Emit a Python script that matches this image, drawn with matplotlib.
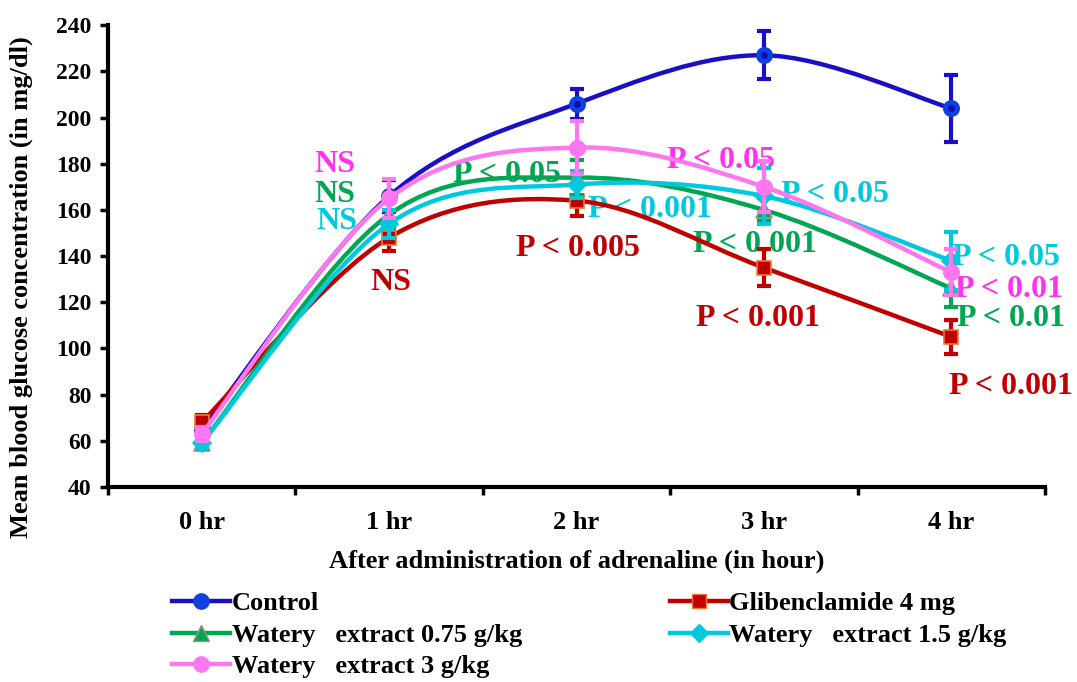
import numpy as np
import matplotlib
matplotlib.use("Agg")
import matplotlib.pyplot as plt
from matplotlib.path import Path
from matplotlib.patches import PathPatch
from matplotlib.lines import Line2D

plt.rcParams['font.family'] = ['Liberation Serif', 'DejaVu Serif']
plt.rcParams['font.weight'] = 'bold'

# time points after adrenaline
hours = ['0 hr', '1 hr', '2 hr', '3 hr', '4 hr']

# mean blood glucose (mg/dl) and error (SE) for each group
control = [65, 166, 206, 227, 204]
control_err = [3, 7, 6.5, 10.5, 14.5]
glib = [68, 148, 164, 135, 105]
glib_err = [3, 6, 6.5, 8, 7.5]
w075 = [59, 158, 174, 160, 126]
w075_err = [2, 6, 7.5, 5, 8]
w15 = [59, 154, 171, 166, 138]
w15_err = [2, 6, 6, 12, 12.5]
w3 = [63, 165, 187, 170, 133]
w3_err = [3, 8.5, 11.5, 11, 10]

labels = ['Control', 'Glibenclamide 4 mg', 'Watery   extract 0.75 g/kg',
          'Watery   extract 1.5 g/kg', 'Watery   extract 3 g/kg']

# significance notes: (text, x, y, series index)
notes = [
    ('NS', 1.21, 179.5, 4), ('NS', 1.21, 166.5, 2), ('NS', 1.22, 155, 3),
    ('NS', 1.51, 128.5, 1),
    ('P < 0.05', 2.13, 175.5, 2), ('P < 0.001', 2.89, 160, 3),
    ('P < 0.005', 2.51, 143.5, 1),
    ('P < 0.05', 3.27, 181.5, 4), ('P < 0.05', 3.88, 166.5, 3),
    ('P < 0.001', 3.45, 145, 2), ('P < 0.001', 3.47, 113, 1),
    ('P < 0.05', 4.79, 139.5, 3), ('P < 0.01', 4.81, 125.5, 4),
    ('P < 0.01', 4.82, 113, 2), ('P < 0.001', 4.82, 83.5, 1),
]

line_cols = ['#1a0fc4', '#c00000', '#00a651', '#00c9dd', '#ff77ee']
text_cols = ['#1a0fc4', '#c00000', '#00a651', '#00c9dd', '#ff33ee']
mk = ['o', 's', '^', 'D', 'o']
mface = ['#1040e0', '#c00000', '#00a651', '#00c9dd', '#ff77ee']
medge = ['#1040e0', '#f07830', '#909090', '#00c9dd', '#ff77ee']
msize = [11, 10, 11, 9, 11]


def smooth_path(x, y):
    # Catmull-Rom style bezier segments like a spreadsheet "smoothed line"
    pts = np.column_stack([x, y]).astype(float)
    ext = np.vstack([pts[0], pts, pts[-1]])
    verts = [tuple(pts[0])]
    codes = [Path.MOVETO]
    for i in range(1, len(ext) - 2):
        p0, p1, p2, p3 = ext[i - 1], ext[i], ext[i + 1], ext[i + 2]
        c1 = p1 + (p2 - p0) / 6.0
        c2 = p2 - (p3 - p1) / 6.0
        verts += [tuple(c1), tuple(c2), tuple(p2)]
        codes += [Path.CURVE4] * 3
    return Path(verts, codes)


fig = plt.figure(figsize=(10.77, 6.82), dpi=100)
ax = fig.add_axes([0.1003, 0.286, 0.870, 0.677])

xpos = np.arange(len(hours)) + 0.5
series = [(control, control_err), (glib, glib_err), (w075, w075_err),
          (w15, w15_err), (w3, w3_err)]

for i, (vals, errs) in enumerate(series):
    z = 3 + i
    ax.add_patch(PathPatch(smooth_path(xpos, vals), facecolor='none',
                           edgecolor=line_cols[i], lw=3.2, zorder=z))
    ax.errorbar(xpos, vals, yerr=errs, fmt='none', ecolor=line_cols[i],
                elinewidth=3, capsize=5, capthick=3, zorder=z)
    ax.plot(xpos, vals, ls='none', marker=mk[i], ms=msize[i],
            mfc=mface[i], mec=medge[i], mew=1.2, zorder=z + 0.5)
    if i == 0:
        ax.plot(xpos, vals, ls='none', marker='o', ms=4, mfc='#1010b0',
                mec='#1010b0', zorder=z + 0.6)

for txt, x, y, s in notes:
    ax.text(x, y, txt, color=text_cols[s], fontsize=23, fontweight='bold',
            ha='center', va='center', zorder=2)

ax.set_xlim(0, 5)
ax.set_ylim(40, 240)
ax.set_yticks(np.arange(40, 241, 20))
ax.set_xticks(xpos)
ax.set_xticklabels(hours)
ax.set_xticks(np.arange(0, 6), minor=True)
ax.tick_params(axis='x', which='major', length=0, pad=17, labelsize=19)
ax.tick_params(axis='x', which='minor', length=6, width=2.5)
ax.tick_params(axis='y', length=6, width=2.5, labelsize=17, pad=6)
for lab in ax.get_xticklabels() + ax.get_yticklabels():
    lab.set_fontweight('bold')
for sp in ['top', 'right']:
    ax.spines[sp].set_visible(False)
ax.spines['left'].set_linewidth(3)
ax.spines['bottom'].set_linewidth(3)

ax.set_ylabel('Mean blood glucose concentration (in mg/dl)', fontsize=19,
              fontweight='bold')
ax.set_xlabel('After administration of adrenaline (in hour)', fontsize=19,
              fontweight='bold')
ax.yaxis.set_label_coords(-0.08, 0.433)
ax.xaxis.set_label_coords(0.5, -0.136)

handles = []
for i in range(5):
    handles.append(Line2D([], [], color=line_cols[i], lw=3.2, marker=mk[i],
                          ms=msize[i], mfc=mface[i], mec=medge[i]))
order = [0, 2, 4, 1, 3]
fig.legend([handles[k] for k in order], [labels[k] for k in order],
           loc='upper left', bbox_to_anchor=(0.16, 0.132), ncol=2,
           frameon=False, handlelength=2.2, handletextpad=0.05,
           columnspacing=5.6, labelspacing=0.3, borderaxespad=0,
           borderpad=0, prop={'weight': 'bold', 'size': 19})

fig.savefig('out.png', dpi=100)
